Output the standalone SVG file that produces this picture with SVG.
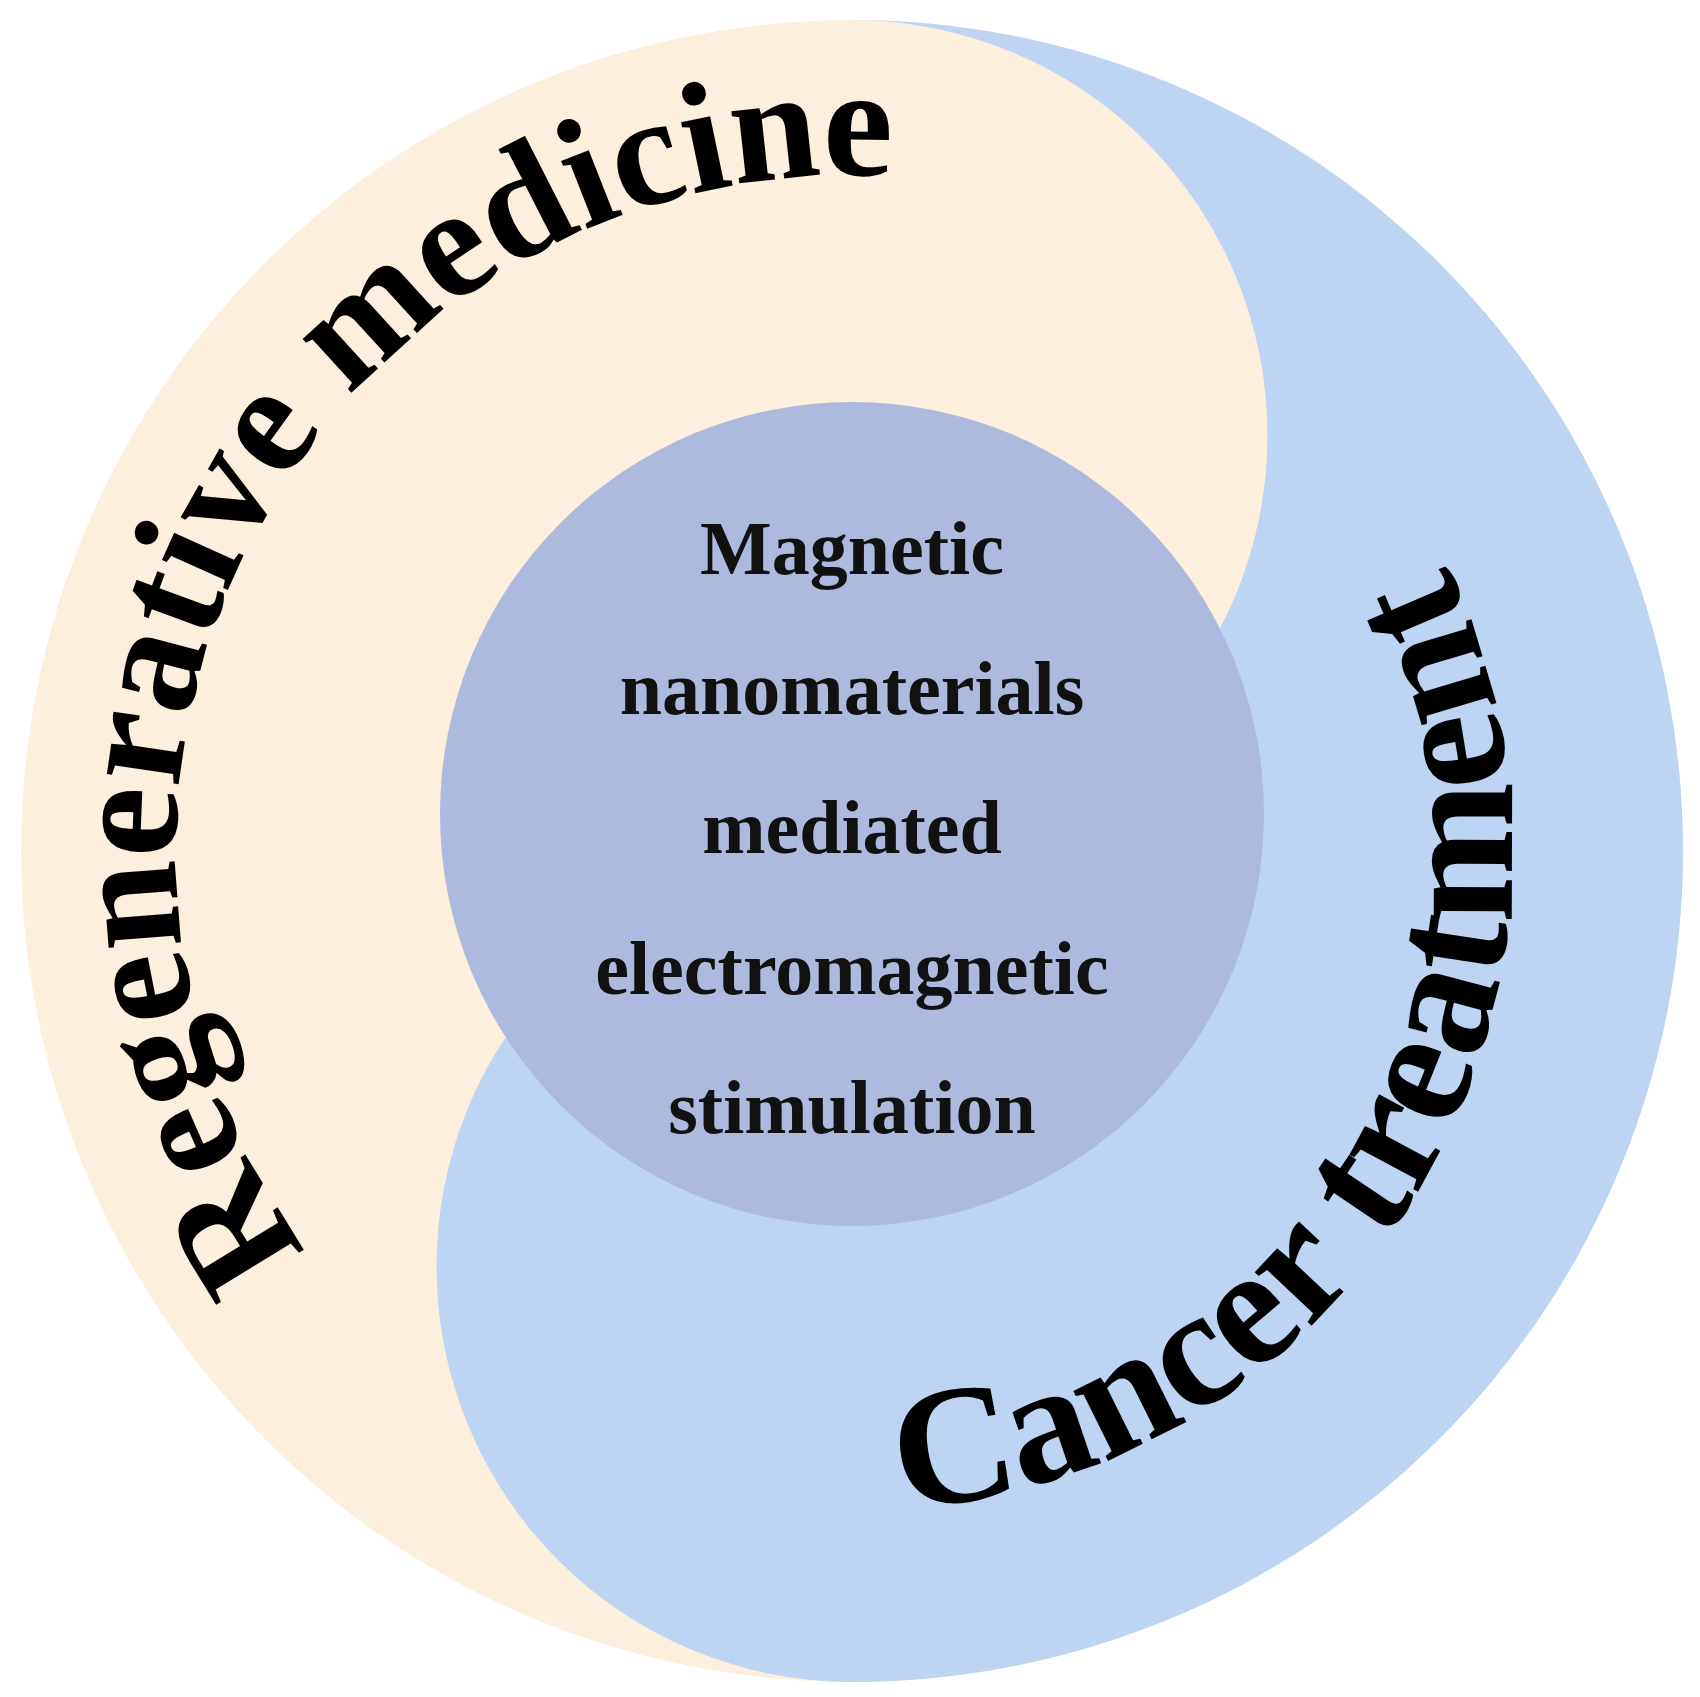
<svg xmlns="http://www.w3.org/2000/svg" xmlns:xlink="http://www.w3.org/1999/xlink" width="1700" height="1697" viewBox="0 0 1700 1697">
<style>
.big{font-family:"Liberation Serif",serif;font-weight:bold;font-size:158px;fill:#000}
.mid{font-family:"Liberation Serif",serif;font-weight:bold;font-size:76px;fill:#111;text-anchor:middle}
</style>
<defs>
<path id="pR" d="M1446,1174 A676,676 0 0 1 258,528 A676,676 0 0 1 1446,1174"/>
<path id="pC" d="M280.4,521 A660,660 0 0 0 1423.6,1181 A660,660 0 0 0 280.4,521"/>
</defs>
<rect width="1700" height="1697" fill="#fff"/>
<g id="regen">
<circle cx="852" cy="851" r="831" fill="#FDEFDD"/>
</g>
<g id="cancer">
<path d="M852,20 A415.5,415.5 0 0 1 852,851 A415.5,415.5 0 0 0 852,1682 A831,831 0 0 0 852,20 Z" fill="#BDD4F2"/>
</g>
<g id="center">
<circle cx="852" cy="814" r="412" fill="#AEBADD"/>
<text class="mid" x="852" y="574">Magnetic</text>
<text class="mid" x="852" y="714">nanomaterials</text>
<text class="mid" x="852" y="853">mediated</text>
<text class="mid" x="852" y="994">electromagnetic</text>
<text class="mid" x="852" y="1133">stimulation</text>
</g>
<g id="labels">
<text class="big" text-anchor="middle"><textPath xlink:href="#pR" href="#pR" startOffset="50%">Regenerative medicine</textPath></text>
<text class="big" text-anchor="middle" style="font-size:170px"><textPath xlink:href="#pC" href="#pC" startOffset="50%">Cancer treatment</textPath></text>
</g>
<g id="connectors"/>
</svg>
